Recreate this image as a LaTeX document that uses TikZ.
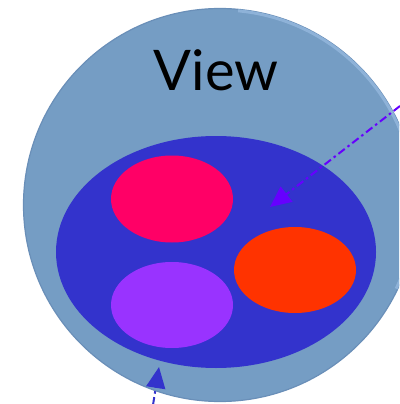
\documentclass[tikz,border=0pt]{standalone}
\usepackage{fontspec}
\setmainfont{Lato}
\usetikzlibrary{shapes.geometric,arrows.meta}
\definecolor{viewfill}{HTML}{759DC4}
\definecolor{viewrim}{HTML}{8EB2D8}
\definecolor{viewedge}{HTML}{6A8FB8}
\definecolor{innerblue}{HTML}{3333CC}
\definecolor{pinkc}{HTML}{FF0066}
\definecolor{orangec}{HTML}{FF3300}
\definecolor{purplec}{HTML}{9933FF}
\definecolor{arrowviolet}{HTML}{6600FF}
\tikzset{
  blob/.style={ellipse, inner sep=0pt, draw=none},
  dasharrow/.style={line width=2pt, dash pattern=on 8pt off 3.5pt on 2.5pt off 3.5pt,
    -{Triangle[length=21pt,width=19pt]}}
}
\begin{document}
\begin{tikzpicture}[x=1pt,y=-1pt]
\useasboundingbox (0,0) rectangle (399,404);
\begin{scope}
\clip (0,0) rectangle (399,404);
\node[circle, fill=viewfill, draw=viewedge, line width=1.2pt, minimum size=393pt, inner sep=0pt] (view) at (220,205) {};
\begin{scope}
\clip (view.center) -- (240,-10) -- (420,-10) -- (420,300) -- cycle;
\draw[viewrim, line width=3pt] (view.center) circle[radius=195pt];
\end{scope}
\end{scope}
\node[font=\fontsize{56}{60}\selectfont] (label) at (216,70) {View};
\node[blob, fill=innerblue, minimum width=320pt, minimum height=232pt] (inner) at (216,252) {};
\node[blob, fill=pinkc, minimum width=122pt, minimum height=87pt] (pink) at (172,199) {};
\node[blob, fill=orangec, minimum width=122pt, minimum height=86pt] (orange) at (295,270) {};
\node[blob, fill=purplec, minimum width=122pt, minimum height=86pt] (purple) at (172,305) {};
\coordinate (a1start) at (400,106);
\coordinate (a1end) at (270,207);
\coordinate (a2start) at (153,405);
\coordinate (a2end) at (159,367);
\draw[dasharrow, draw=arrowviolet] (a1start) -- (a1end);
\draw[dasharrow, draw=innerblue] (a2start) -- (a2end);
\end{tikzpicture}
\end{document}
